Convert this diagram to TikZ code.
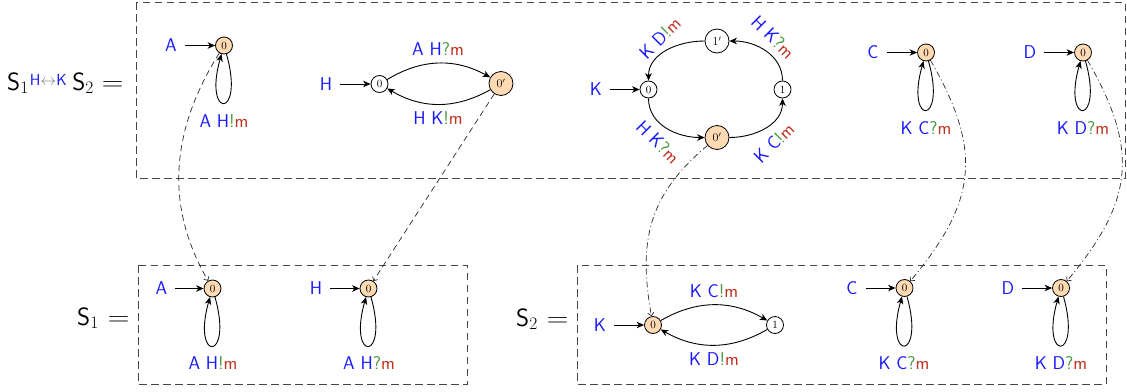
\RequirePackage{fix-cm}
\documentclass[tikz,border=0pt]{standalone}
\usepackage{graphicx}
\usetikzlibrary{arrows.meta}
\definecolor{cblue}{RGB}{25,25,255}
\definecolor{cgreen}{RGB}{70,150,60}
\definecolor{cred}{RGB}{190,50,30}
\definecolor{cfill}{RGB}{255,218,178}
\definecolor{cbox}{RGB}{70,70,70}
\definecolor{cmap}{RGB}{40,40,40}
\newcommand{\tlab}[3]{\textcolor{cblue}{#1}\textcolor{cgreen}{#2}\textcolor{cred}{#3}}
\newcommand{\wideeq}{\scalebox{1.2}[1]{$=$}}
\begin{document}
\begin{tikzpicture}[x=1pt,y=1pt,
  st/.style={circle,draw,line width=0.8pt,inner sep=0pt,minimum size=17pt,font=\fontsize{11}{11}\selectfont},
  bigst/.style={st,minimum size=24pt,font=\fontsize{12}{12}\selectfont},
  ini/.style={fill=cfill},
  txt/.style={font=\sffamily\fontsize{18.5}{18.5}\selectfont,text=cblue,inner sep=0pt},
  bigtxt/.style={font=\fontsize{25}{25}\selectfont,inner sep=0pt,anchor=base west},
  tr/.style={-{Stealth[length=7.5pt,width=6.5pt,inset=2.2pt]},line width=0.9pt},
  initarr/.style={tr,shorten <=8pt},
  loopst/.style={tr,out=-74,in=-106,distance=68pt},
  map/.style={-{Straight Barb[length=3pt,width=6pt]},line width=0.7pt,draw=cmap,dash pattern=on 6pt off 4pt},
  mapdd/.style={map,dash pattern=on 6pt off 3pt on 1pt off 3pt},
  boxst/.style={draw=cbox,line width=0.9pt,dash pattern=on 7.5pt off 4.5pt}
]
\useasboundingbox (0,0) rectangle (1127,-391);

% boxes
\draw[boxst] (136,-2) rectangle (1125,-178);
\draw[boxst] (138,-265) rectangle (467,-384);
\draw[boxst] (577,-265) rectangle (1106,-384);

% equation labels
\node[bigtxt] (eqtop) at (7,-90) {$\mathsf{S}_1$\kern1pt\raisebox{5pt}{\sffamily\fontsize{16}{16}\selectfont\textcolor{cblue}{H}\textcolor{gray}{$\leftrightarrow$}\textcolor{cblue}{K}}\kern5.5pt$\mathsf{S}_2$\kern8pt\wideeq};
\node[bigtxt] (eqone) at (77,-325) {$\mathsf{S}_1$\kern9pt\wideeq};
\node[bigtxt] (eqtwo) at (516,-326) {$\mathsf{S}_2$\kern9pt\wideeq};

% ---------- top: A ----------
\node[st,ini] (tA) at (224,-45.5) {$0$};
\node[txt] (tAl) at (171,-45.5) {A};
\draw[initarr] (tAl) -- (tA);
\draw[loopst] (tA) to (tA);
\node[txt] (tAlab) at (224,-121) {\tlab{A H}{!}{m}};

% ---------- top: H ----------
\node[st] (tH0) at (379.5,-84) {$0$};
\node[bigst,ini] (tH0p) at (501,-83.5) {$0'$};
\node[txt] (tHl) at (326,-84) {H};
\draw[initarr] (tHl) -- (tH0);
\draw[tr] (tH0) to[bend left=30] (tH0p);
\draw[tr] (tH0p) to[bend left=30] (tH0);
\node[txt] (tHa) at (438,-49.5) {\tlab{A H}{?}{m}};
\node[txt] (tHb) at (438,-118.5) {\tlab{H K}{!}{m}};

% ---------- top: K ----------
\node[st] (tK0) at (648.5,-89.5) {$0$};
\node[bigst] (tK1p) at (717,-41) {$1'$};
\node[st] (tK1) at (782.5,-89.5) {$1$};
\node[bigst,ini] (tK0p) at (717,-137.5) {$0'$};
\node[txt] (tKl) at (596,-89.5) {K};
\draw[initarr] (tKl) -- (tK0);
\draw[tr] (tK0) to[out=-90,in=180] (tK0p);
\draw[tr] (tK0p) to[out=0,in=-90] (tK1);
\draw[tr] (tK1) to[out=90,in=0] (tK1p);
\draw[tr] (tK1p) to[out=180,in=90] (tK0);
\node[txt,rotate=45] (tKa) at (660,-38) {\tlab{K D}{!}{m}};
\node[txt,rotate=-45] (tKb) at (773,-37) {\tlab{H K}{?}{m}};
\node[txt,rotate=-45] (tKc) at (658,-142) {\tlab{H K}{?}{m}};
\node[txt,rotate=45] (tKd) at (774,-143) {\tlab{K C}{!}{m}};

% ---------- top: C ----------
\node[st,ini] (tC) at (926,-52.5) {$0$};
\node[txt] (tCl) at (873,-52.5) {C};
\draw[initarr] (tCl) -- (tC);
\draw[loopst] (tC) to (tC);
\node[txt] (tClab) at (926,-128.5) {\tlab{K C}{?}{m}};

% ---------- top: D ----------
\node[st,ini] (tD) at (1083,-52.5) {$0$};
\node[txt] (tDl) at (1030,-52.5) {D};
\draw[initarr] (tDl) -- (tD);
\draw[loopst] (tD) to (tD);
\node[txt] (tDlab) at (1083,-128.5) {\tlab{K D}{?}{m}};

% ---------- bottom S1 ----------
\node[st,ini] (bA) at (212.5,-288.5) {$0$};
\node[txt] (bAl) at (161.5,-288.5) {A};
\draw[initarr] (bAl) -- (bA);
\draw[loopst] (bA) to (bA);
\node[txt] (bAlab) at (213,-363.5) {\tlab{A H}{!}{m}};

\node[st,ini] (bH) at (368.5,-288.5) {$0$};
\node[txt] (bHl) at (316,-288.5) {H};
\draw[initarr] (bHl) -- (bH);
\draw[loopst] (bH) to (bH);
\node[txt] (bHlab) at (369,-363.5) {\tlab{A H}{?}{m}};

% ---------- bottom S2 ----------
\node[st,ini] (bK0) at (653,-325) {$0$};
\node[st] (bK1) at (775,-325) {$1$};
\node[txt] (bKl) at (600,-325) {K};
\draw[initarr] (bKl) -- (bK0);
\draw[tr] (bK0) to[bend left=30] (bK1);
\draw[tr] (bK1) to[bend left=30] (bK0);
\node[txt] (bKa) at (714,-291) {\tlab{K C}{!}{m}};
\node[txt] (bKb) at (714,-359) {\tlab{K D}{!}{m}};

\node[st,ini] (bC) at (904.5,-288) {$0$};
\node[txt] (bCl) at (852,-288) {C};
\draw[initarr] (bCl) -- (bC);
\draw[loopst] (bC) to (bC);
\node[txt] (bClab) at (904,-363.5) {\tlab{K C}{?}{m}};

\node[st,ini] (bD) at (1061,-288) {$0$};
\node[txt] (bDl) at (1008,-288) {D};
\draw[initarr] (bDl) -- (bD);
\draw[loopst] (bD) to (bD);
\node[txt] (bDlab) at (1061,-363.5) {\tlab{K D}{?}{m}};

% ---------- mapping connectors ----------
\draw[map] (tA) to[out=-122,in=120] (bA);
\draw[map] (tH0p) -- (bH);
\draw[mapdd] (tK0p) to[out=-140,in=100,looseness=1.1] (bK0);
\draw[mapdd] (tC) to[out=-60,in=50,looseness=1.2] (bC);
\draw[mapdd] (tD) to[out=-60,in=50,looseness=1.2] (bD);
\end{tikzpicture}
\end{document}
